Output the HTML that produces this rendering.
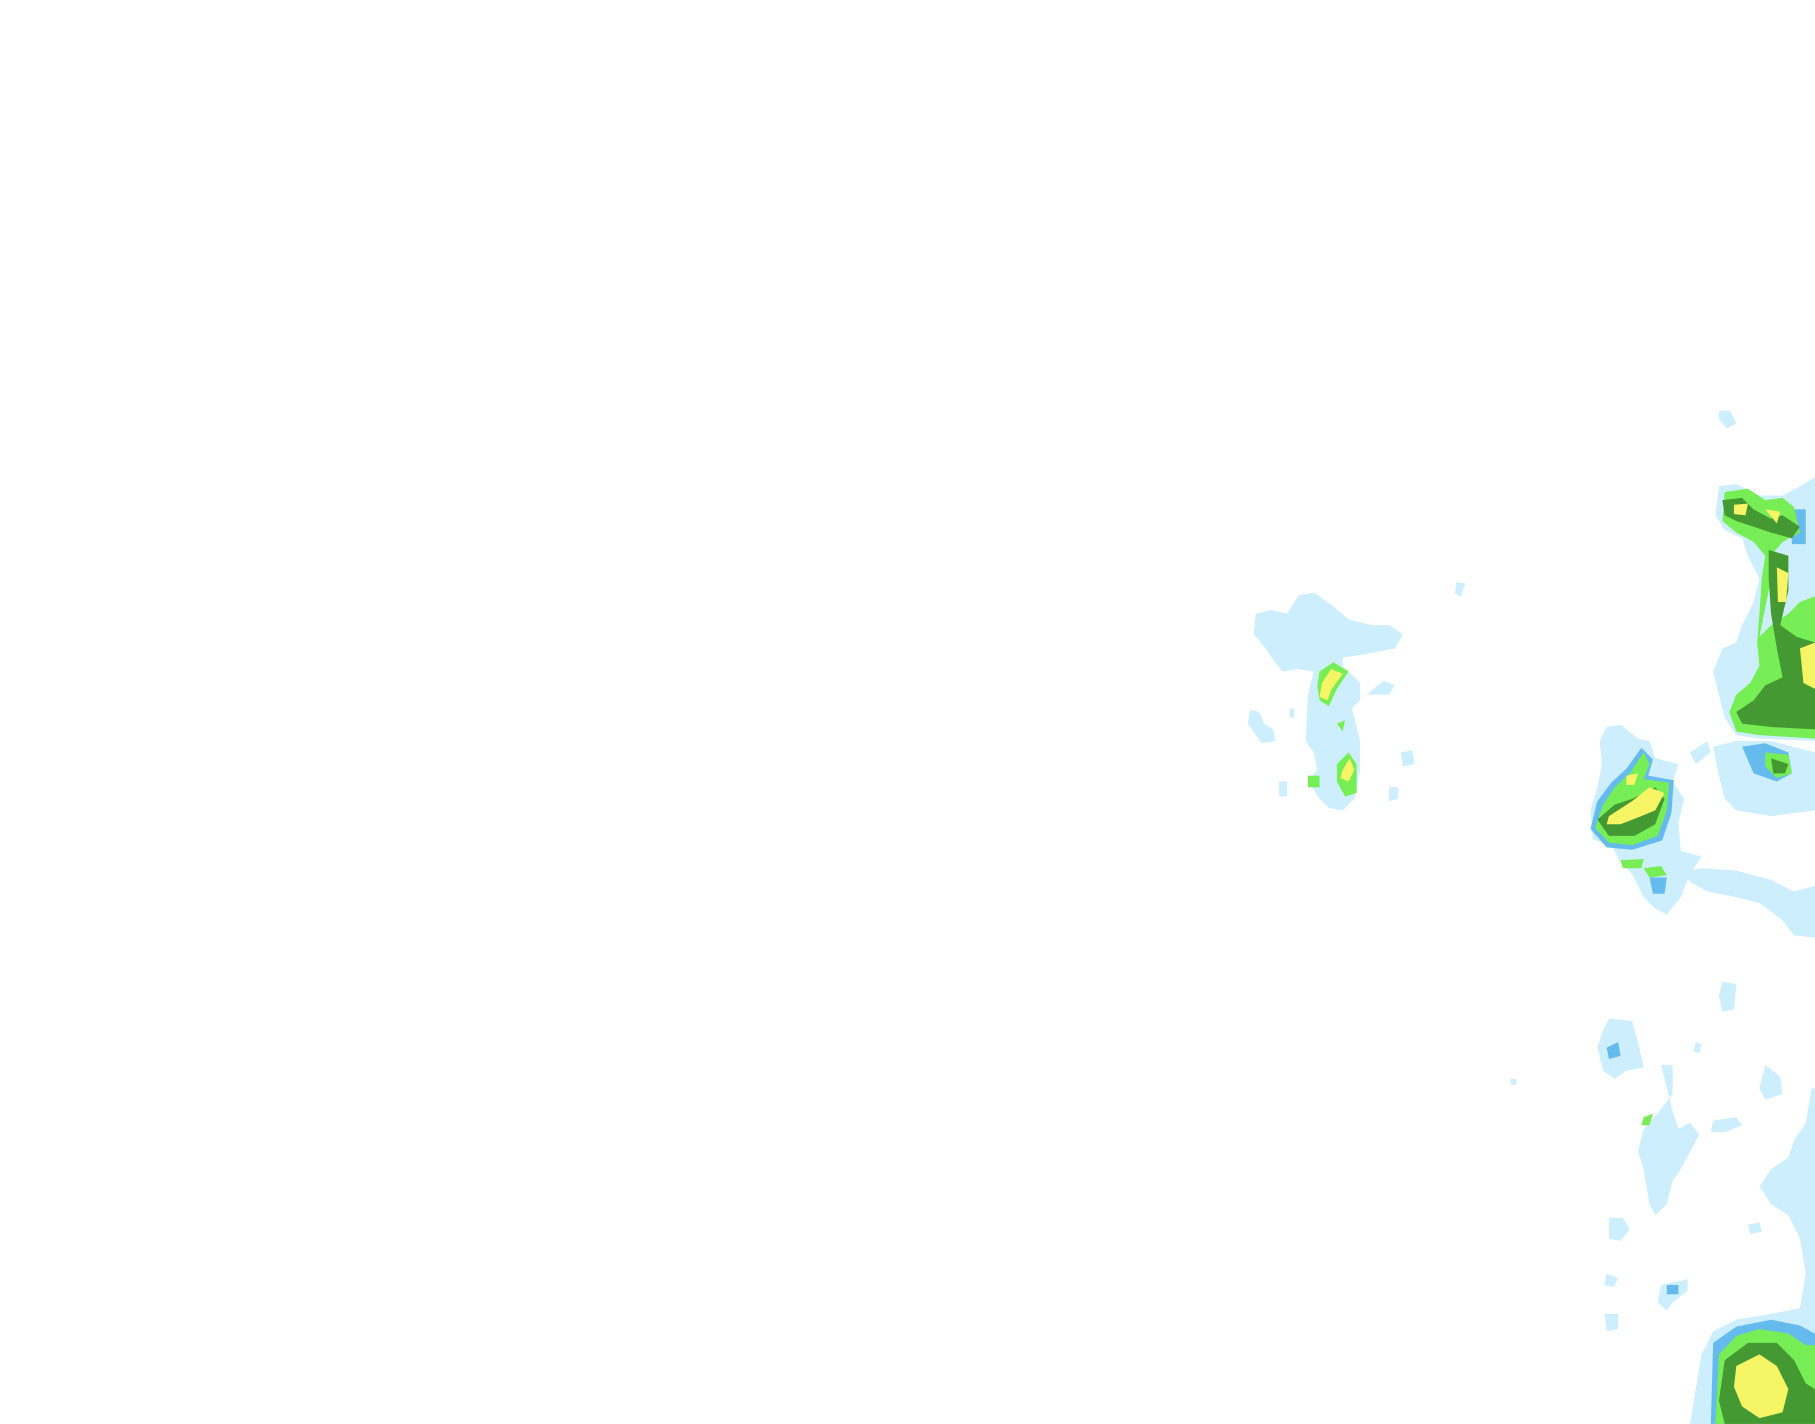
<!DOCTYPE html>
<html><head><meta charset="utf-8"><style>
html,body{margin:0;padding:0;background:#fff;width:1815px;height:1424px;overflow:hidden}
svg{display:block}
</style></head><body>
<svg width="1815" height="1424" viewBox="0 0 1568 1230" xmlns="http://www.w3.org/2000/svg">
<g fill="#cdeefd">
<path d="M1085,530 L1098,527 L1112,530 L1122,514 L1135,512 L1150,522 L1165,535 L1185,540 L1200,540 L1212,548 L1205,560 L1180,565 L1160,568 L1160,575 L1175,590 L1175,605 L1195,588 L1205,592 L1200,600 L1180,600 L1168,612 L1175,640 L1175,665 L1170,690 L1160,700 L1148,698 L1140,690 L1130,675 L1138,665 L1135,650 L1128,640 L1130,600 L1135,580 L1120,578 L1108,580 L1100,570 L1092,558 L1083,548 Z"/>
<path d="M1080,613 L1088,615 L1092,625 L1100,630 L1102,640 L1090,642 L1083,632 L1078,625 Z"/>
<path d="M1105,675 L1112,675 L1112,688 L1105,688 Z"/>
<path d="M1210,650 L1220,648 L1222,660 L1212,662 Z"/>
<path d="M1200,680 L1208,680 L1208,690 L1200,692 Z"/>
<path d="M1258,503 L1266,504 L1262,515 L1257,513 Z"/>
<path d="M1114,612 L1118,612 L1118,620 L1114,620 Z"/>
<path d="M1388,628 L1400,626 L1415,638 L1425,640 L1430,655 L1450,660 L1445,675 L1455,690 L1450,710 L1452,735 L1470,740 L1460,755 L1452,775 L1440,790 L1430,785 L1420,775 L1410,755 L1400,745 L1392,730 L1376,725 L1374,700 L1380,680 L1384,660 L1382,640 Z"/>
<path d="M1460,650 L1475,640 L1478,650 L1465,660 Z"/>
<path d="M1485,420 L1500,418 L1520,428 L1540,428 L1555,420 L1568,412 L1568,640 L1520,638 L1500,635 L1490,620 L1485,600 L1480,580 L1488,560 L1500,555 L1505,540 L1515,520 L1520,500 L1510,480 L1505,465 L1490,458 L1482,445 Z"/>
<path d="M1485,355 L1495,355 L1500,366 L1492,370 L1485,362 Z"/>
<path d="M1480,645 L1500,640 L1530,640 L1568,650 L1568,700 L1530,705 L1500,700 L1490,690 L1485,670 Z"/>
<path d="M1455,752 L1470,750 L1500,752 L1530,760 L1550,770 L1568,765 L1568,810 L1550,808 L1540,795 L1520,780 L1500,775 L1475,770 L1460,762 Z"/>
<path d="M1488,848 L1500,850 L1498,872 L1488,874 L1485,860 Z"/>
<path d="M1390,880 L1410,882 L1415,900 L1420,922 L1405,925 L1395,932 L1385,925 L1380,905 L1385,890 Z"/>
<path d="M1435,920 L1445,920 L1445,945 L1432,962 L1420,975 L1415,995 L1420,1010 L1425,1040 L1430,1050 L1440,1040 L1445,1020 L1452,1010 L1460,995 L1468,980 L1460,970 L1450,975 L1445,960 Z"/>
<path d="M1465,900 L1470,902 L1468,910 L1463,908 Z"/>
<path d="M1525,920 L1538,930 L1540,945 L1525,950 L1520,940 Z"/>
<path d="M1480,968 L1500,965 L1505,972 L1490,978 L1478,978 Z"/>
<path d="M1565,940 L1568,940 L1568,1230 L1460,1230 L1465,1200 L1470,1170 L1480,1150 L1500,1140 L1530,1135 L1555,1130 L1560,1100 L1555,1070 L1545,1050 L1530,1040 L1520,1025 L1530,1010 L1545,1000 L1550,985 L1560,970 Z"/>
<path d="M1390,1052 L1402,1052 L1408,1062 L1400,1072 L1390,1070 Z"/>
<path d="M1510,1058 L1520,1056 L1522,1064 L1512,1066 Z"/>
<path d="M1388,1100 L1398,1104 L1394,1112 L1386,1110 Z"/>
<path d="M1435,1110 L1458,1105 L1458,1115 L1445,1125 L1440,1132 L1432,1125 Z"/>
<path d="M1386,1135 L1398,1135 L1398,1148 L1388,1150 Z"/>
<path d="M1305,932 L1310,932 L1310,937 L1305,937 Z"/>
</g>
<g fill="#66bbee">
<path d="M1388,905 L1398,900 L1400,912 L1390,915 Z"/>
<path d="M1505,645 L1525,642 L1545,650 L1548,668 L1535,675 L1515,668 Z"/>
<path d="M1425,758 L1440,758 L1438,772 L1428,772 Z"/>
<path d="M1548,440 L1560,440 L1560,470 L1548,470 Z"/>
<path d="M1440,1110 L1450,1110 L1450,1118 L1440,1118 Z"/>
<path d="M1480,1160 L1500,1146 L1530,1140 L1555,1145 L1568,1152 L1568,1230 L1478,1230 Z"/>
<path d="M1380,692 L1392,676 L1405,664 L1418,646 L1428,656 L1424,670 L1446,674 L1444,702 L1436,726 L1410,734 L1388,732 L1374,716 Z"/>
</g>
<g fill="#77ee55">
<path d="M1140,580 L1152,572 L1165,580 L1155,595 L1148,610 L1140,605 L1138,592 Z"/>
<path d="M1155,660 L1165,650 L1172,660 L1172,685 L1162,688 L1155,675 Z"/>
<path d="M1155,625 L1162,622 L1160,632 Z"/>
<path d="M1130,670 L1140,670 L1140,680 L1130,680 Z"/>
<path d="M1385,695 L1395,680 L1408,668 L1420,650 L1425,660 L1420,673 L1442,676 L1440,700 L1432,722 L1410,730 L1390,728 L1378,715 Z"/>
<path d="M1400,743 L1420,742 L1418,750 L1402,750 Z"/>
<path d="M1420,750 L1435,748 L1440,756 L1425,758 Z"/>
<path d="M1490,425 L1510,422 L1525,432 L1540,430 L1550,438 L1555,460 L1540,468 L1530,480 L1530,500 L1525,525 L1520,550 L1530,540 L1545,530 L1555,520 L1568,515 L1568,638 L1520,635 L1500,632 L1494,615 L1500,600 L1512,590 L1520,575 L1518,555 L1520,530 L1522,500 L1525,480 L1515,468 L1500,460 L1488,450 Z"/>
<path d="M1525,650 L1545,652 L1548,668 L1535,672 L1525,662 Z"/>
<path d="M1420,965 L1428,962 L1425,972 L1418,972 Z"/>
<path d="M1485,1170 L1500,1154 L1520,1148 L1545,1152 L1560,1162 L1568,1162 L1568,1230 L1482,1230 Z"/>
</g>
<g fill="#449933">
<path d="M1488,432 L1505,430 L1515,440 L1530,448 L1540,445 L1555,455 L1548,465 L1530,460 L1515,455 L1500,450 L1490,445 Z"/>
<path d="M1528,475 L1545,480 L1545,510 L1538,540 L1552,550 L1568,555 L1568,630 L1530,628 L1505,625 L1500,615 L1515,605 L1525,592 L1540,585 L1535,560 L1530,530 L1528,500 Z"/>
<path d="M1380,708 L1395,695 L1410,690 L1430,680 L1438,690 L1430,712 L1412,722 L1390,722 Z"/>
<path d="M1530,655 L1545,660 L1542,668 L1532,668 Z"/>
<path d="M1490,1175 L1510,1160 L1535,1160 L1550,1175 L1560,1195 L1568,1200 L1568,1230 L1490,1230 L1485,1210 Z"/>
</g>
<g fill="#f5f566">
<path d="M1142,590 L1150,578 L1160,582 L1150,596 L1147,605 L1140,602 Z"/>
<path d="M1160,665 L1166,655 L1170,665 L1165,675 L1158,672 Z"/>
<path d="M1390,705 L1410,692 L1425,680 L1438,685 L1430,700 L1418,705 L1400,712 L1388,712 Z"/>
<path d="M1405,670 L1415,668 L1412,678 L1405,678 Z"/>
<path d="M1535,490 L1545,495 L1543,520 L1536,520 Z"/>
<path d="M1555,560 L1568,555 L1568,595 L1558,590 Z"/>
<path d="M1498,436 L1510,435 L1508,445 L1498,444 Z"/>
<path d="M1525,440 L1538,442 L1535,452 Z"/>
<path d="M1500,1180 L1520,1170 L1535,1180 L1545,1200 L1540,1220 L1520,1225 L1505,1215 L1498,1198 Z"/>
</g>
</svg>
</body></html>
